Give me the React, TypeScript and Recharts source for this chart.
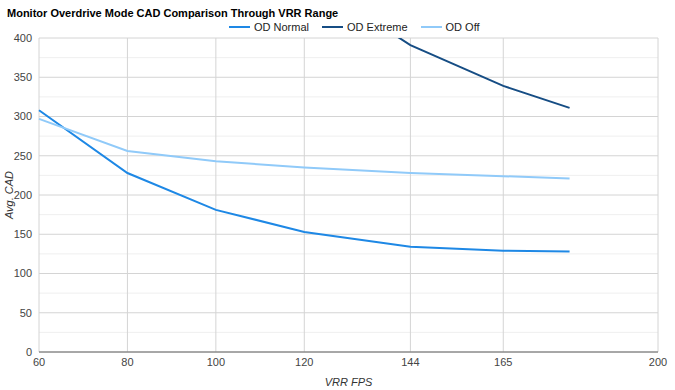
import { LineChart, Line, XAxis, YAxis, CartesianGrid, Label } from 'recharts'

const FPS = [60, 80, 100, 120, 144, 165, 180]
const OD_NORMAL = [308, 228, 181, 153, 134, 129, 128]
const OD_EXTREME = [null, null, null, 478, 391, 339, 311]
const OD_OFF = [297, 256, 243, 235, 228, 224, 221]

const X_TICKS = [60, 80, 100, 120, 144, 165, 200]
const Y_TICKS = [0, 50, 100, 150, 200, 250, 300, 350, 400]
const Y_MINOR = [25, 75, 125, 175, 225, 275, 325, 375]

const SERIES = [
  { key: 'normal', name: 'OD Normal', color: '#1e88e5', values: OD_NORMAL },
  { key: 'extreme', name: 'OD Extreme', color: '#164d84', values: OD_EXTREME },
  { key: 'off', name: 'OD Off', color: '#90caf9', values: OD_OFF },
]

const data = FPS.map((fps, i) => {
  const row: Record<string, number | null> = { fps }
  SERIES.forEach(s => { row[s.key] = s.values[i] })
  return row
})

const font = '"Liberation Sans", Arial, sans-serif'

// legend sits above the plot, drawn as plain html so it doesn't push the plot down
function LegendBox() {
  return (
    <div style={{ position: 'absolute', left: 229, top: 21, display: 'flex', gap: 13, fontSize: 11, color: '#222' }}>
      {SERIES.map(s => (
        <div key={s.key} style={{ display: 'flex', alignItems: 'center', gap: 4 }}>
          <span style={{ width: 21, height: 2, background: s.color, display: 'inline-block' }} />
          <span>{s.name}</span>
        </div>
      ))}
    </div>
  )
}

export default function App() {
  return (
    <div style={{ position: 'absolute', left: 0, top: 0, width: 675, height: 390, background: '#fff', fontFamily: font }}>
      <div style={{ position: 'absolute', left: 7, top: 7, fontSize: 11, fontWeight: 'bold', color: '#000' }}>
        Monitor Overdrive Mode CAD Comparison Through VRR Range
      </div>
      <LegendBox />
      <LineChart width={675} height={390} data={data} margin={{ top: 38, right: 17, bottom: 0, left: 0 }}>
        <CartesianGrid horizontalValues={Y_MINOR} vertical={false} stroke="#efefef" />
        <CartesianGrid stroke="#d4d4d4" />
        <XAxis
          dataKey="fps"
          type="number"
          domain={[60, 200]}
          ticks={X_TICKS}
          interval={0}
          height={38}
          tickLine={false}
          tickSize={4}
          tickMargin={2}
          axisLine={{ stroke: '#666' }}
          tick={{ fontSize: 11, fill: '#444', fontFamily: font }}
        >
          <Label value="VRR FPS" position="insideBottom" offset={4} style={{ fontSize: 11, fontStyle: 'italic', fill: '#333', fontFamily: font }} />
        </XAxis>
        <YAxis
          type="number"
          domain={[0, 400]}
          ticks={Y_TICKS}
          allowDataOverflow
          width={39}
          axisLine={false}
          tickLine={false}
          tickSize={5}
          tickMargin={2}
          tick={{ fontSize: 11, fill: '#444', fontFamily: font }}
        >
          <Label value="Avg. CAD" angle={-90} position="insideLeft" offset={9} style={{ fontSize: 11, fontStyle: 'italic', fill: '#333', fontFamily: font, textAnchor: 'middle' }} />
        </YAxis>
        {SERIES.map(s => (
          <Line
            key={s.key}
            dataKey={s.key}
            name={s.name}
            stroke={s.color}
            strokeWidth={2}
            dot={false}
            type="linear"
            connectNulls={false}
            isAnimationActive={false}
          />
        ))}
      </LineChart>
    </div>
  )
}
